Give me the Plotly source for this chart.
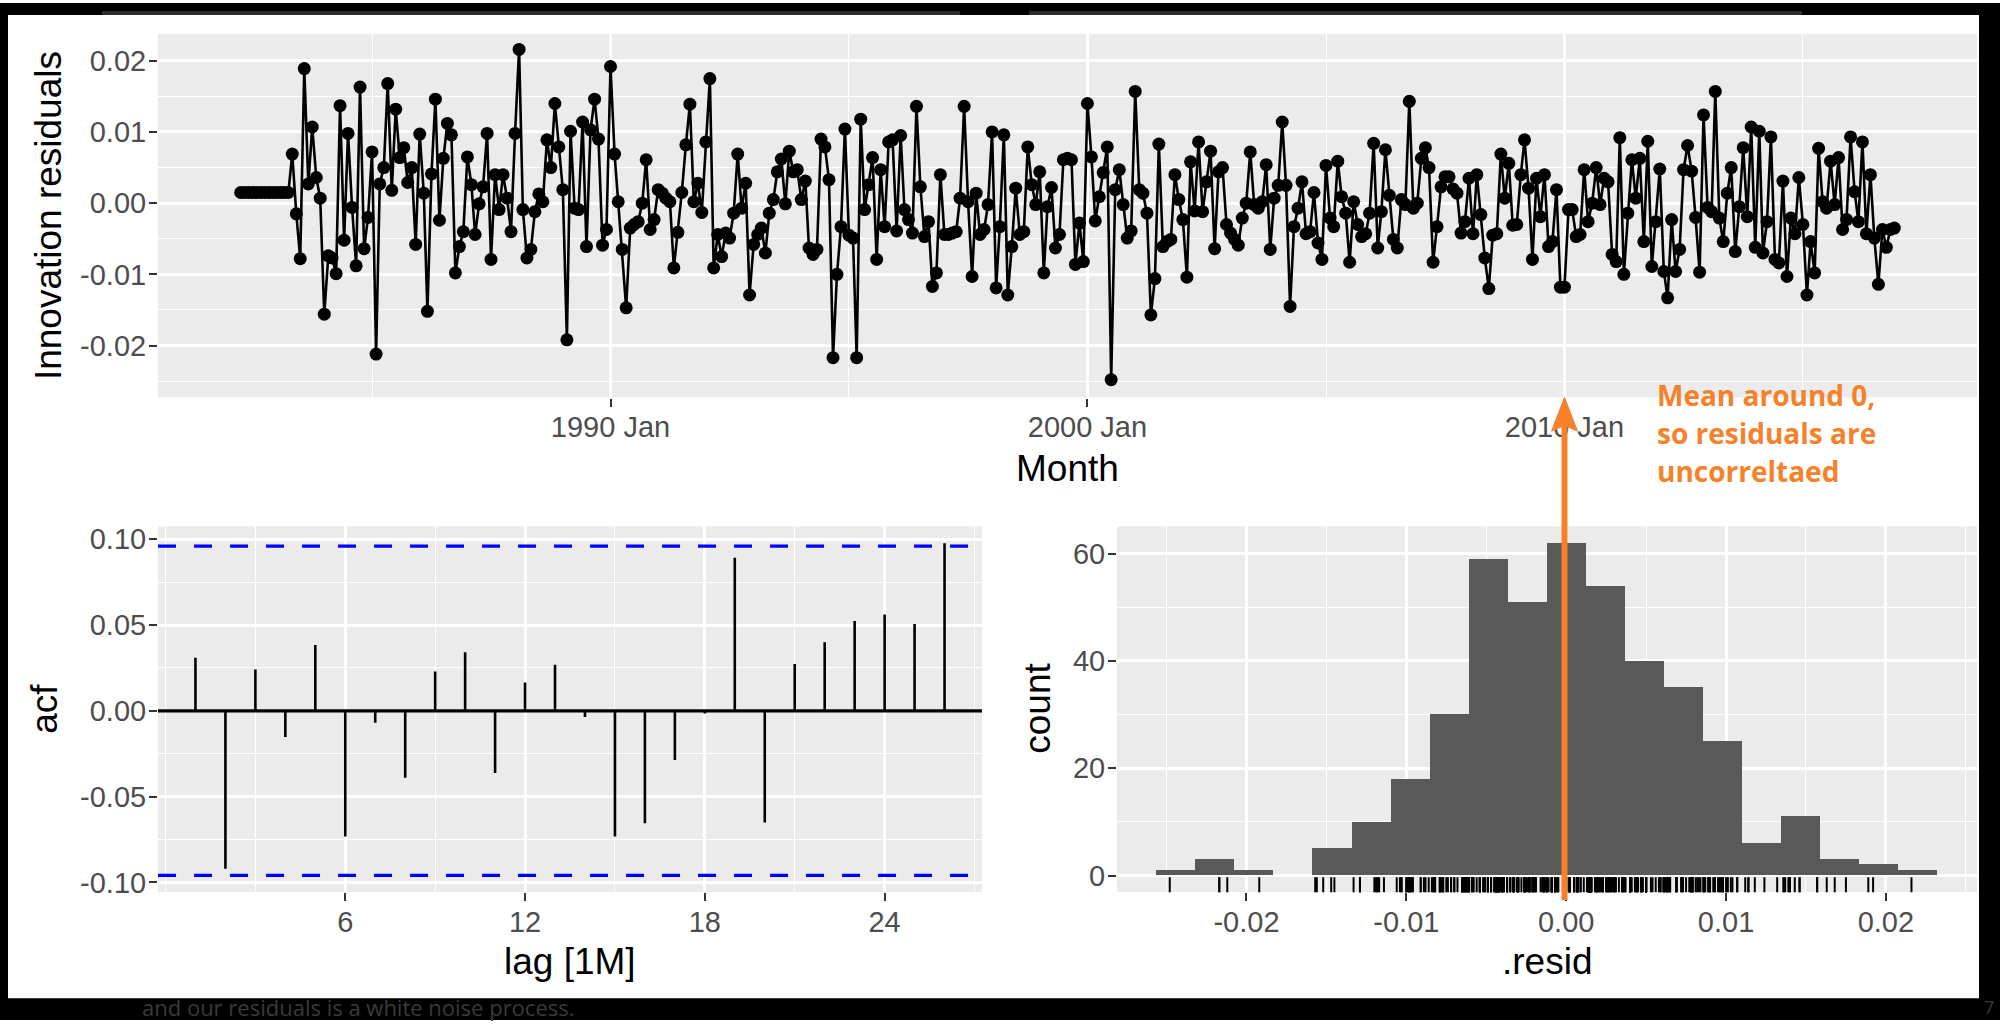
import math
import pandas as pd
import plotly.graph_objects as go

W, H = 2000, 1026

# ---------------- data ----------------
start_month = "1982-04-01"
# innovation residuals, in units of 0.001 (monthly, starting Apr 1982)
resid_x1000 = [
    1.5, 1.5, 1.5, 1.5, 1.5, 1.5, 1.5, 1.5, 1.5, 1.5, 1.5, 1.5, 1.5,
    6.9, -1.5, -7.8, 18.9, 2.7, 10.7, 3.6, 0.7, -15.6, -7.4, -7.7, -9.9, 13.7,
    -5.2, 9.8, -0.6, -8.8, 16.3, -6.4, -2.0, 7.2, -21.2, 2.7, 5.0, 16.8, 1.8,
    13.2, 6.4, 7.8, 2.9, 5.0, -5.8, 9.7, 1.4, -15.2, 4.1, 14.6, -2.4, 6.3,
    11.2, 9.6, -9.8, -6.1, -4.0, 6.5, 2.6, -4.4, -0.1, 2.3, 9.8, -7.9, 4.0,
    -0.9, 4.0, 0.7, -4.0, 9.8, 21.6, -0.9, -7.7, -6.5, -1.2, 1.3, 0.2, 8.9,
    5.0, 14.0, 7.9, 1.9, -19.2, 10.1, -0.7, -0.9, 11.4, -6.1, 10.3, 14.6, 9.0,
    -5.9, -3.7, 19.2, 6.9, 0.2, -6.5, -14.7, -3.5, -3.0, -2.6, 0.0, 6.1,
    -3.7, -2.3, 1.9, 1.4, 0.7, 0.2, -9.1, -4.1, 1.5, 8.2, 13.9, 0.2, 2.8,
    -1.3, 8.6, 17.5, -9.1, -4.4, -7.5, -4.2, -4.9, -1.4, 6.9, -0.7, 2.8, -12.9,
    -5.8, -4.4, -3.5, -7.0, -1.4, 0.5, 4.4, 6.2, -0.1, 7.3, 4.4, 4.7, 0.5,
    3.1, -6.3, -7.2, -6.5, 9.0, 7.9, 3.3, -21.7, -10.0, -3.3, 10.4, -4.5, -4.9,
    -21.7,
    11.8, -0.9, 2.6, 6.4, -7.9, 4.7, -3.3, 8.6, 8.9, -3.9, 9.5, -0.9, -2.3,
    -4.2, 13.6, 2.3, -4.7, -2.6, -11.7, -9.8, 4.0, -4.4, -4.4, -4.2, -4.0, 0.7,
    13.6, 0.2, -10.3, 1.4, -4.4, -3.7, -0.2, 10.0, -11.9, -3.3, 9.6, -12.9, -6.1,
    2.1, -4.4, -4.0, 7.9, 2.6, -0.2, 4.4, -9.8, -0.5, 2.2, -6.3, -4.4, 6.1,
    6.3, 6.1, -8.6, -2.8, -8.2, 14.0, 6.5, -2.5, 0.9, 4.3, 7.9, -24.8, 1.9,
    4.7, -0.2, -4.9, -3.9, 15.7, 1.9, 1.4, -1.4, -15.7, -10.6, 8.3, -6.1, -5.4,
    -5.1, 4.0, 0.5, -2.3, -10.4, 5.8, -1.1, 8.6, -1.2, 3.0, 7.3, -6.4, 4.4,
    5.0, -3.0, -4.2, -5.1, -5.9, -2.1, 0.0, 7.2, -0.2, -0.7, 0.2, 5.4, -6.5,
    0.7, 2.5, 11.4, 2.5, -14.5, -3.3, -0.7, 3.0, -4.3, -4.0, 1.5, -5.6, -7.9,
    5.3, -2.1, -3.3, 5.9, 0.9, -1.4, -8.3, 0.2, -3.0, -4.7, -4.3, -1.4, 8.4,
    -6.3, -1.2, 7.5, 1.1, -5.1, -6.3, 0.5, -0.2, 14.3, -0.7, 0.0, 6.3, 7.8,
    5.0, -8.3, -3.3, 2.3, 3.7, 3.7, 2.0, 1.4, -4.2, -2.6, 3.5, -4.3, 4.0,
    -1.6, -7.7, -12.0, -4.5, -4.3, 6.9, 0.7, 5.6, -3.1, -3.0, 4.0, 8.9, 2.1,
    -7.9, 3.5, -1.9, 4.0, -6.1, -5.4, 1.9, -11.8, -11.8, -0.9, -0.9, -4.7, -4.4,
    4.7, -2.6, 0.0, 5.0, -0.2, 3.5, 3.0, -7.2, -8.2, 9.2, -10.0, -1.4, 6.1,
    0.7, 6.3, -5.4, 8.7, -8.9, -2.6, 4.8, -9.6, -13.3, -2.3, -9.6, -6.5, 4.7,
    8.1, 4.5, -2.0, -9.7, 12.4, -0.6, -1.2, 15.7, -2.1, -5.4, 1.4, 5.0, -6.8,
    -0.5, 7.8, -1.9, 10.7, -6.2, 10.1, -7.0, -2.6, 9.3, -7.9, -8.4, 3.1, -10.3,
    -2.1, -4.3, 3.6, -3.0, -12.9, -5.4, -9.8, 7.7, 0.2, -0.7, 5.9, -0.2, 6.4,
    -3.7, -2.3, 9.3, 1.6, -2.6, 8.6, -4.3, 4.0, -4.9, -11.4, -3.7, -6.2, -3.7,
    -3.5,
]

acf_lags = list(range(1, 27))
acf_values = [0.0309, -0.0920, 0.0241, -0.0153, 0.0384, -0.0733, -0.0070,
              -0.0390, 0.0229, 0.0341, -0.0363, 0.0165, 0.0269, -0.0036,
              -0.0733, -0.0655, -0.0287, -0.0016, 0.0892, -0.0651, 0.0273,
              0.0400, 0.0524, 0.0562, 0.0506, 0.0976]

hist_counts = [1, 3, 1, 0, 5, 10, 18, 30, 59, 51, 62, 54, 40, 35, 25, 6, 11, 3, 2, 1]
hist_first_edge = -0.02564
hist_bin_width = 0.002442

top_ticks = ["1990-01-01", "2000-01-01", "2010-01-01"]
top_ticktext = ["1990 Jan", "2000 Jan", "2010 Jan"]
top_minor = ["1985-01-01", "1995-01-01", "2005-01-01", "2015-01-01"]

# ---------------- derived ----------------
resid = [v / 1000 for v in resid_x1000]
n = len(resid)
months = pd.date_range(start_month, periods=n, freq="MS")
span = months[-1] - months[0]
x_lo = (months[0] - 0.05 * span).strftime("%Y-%m-%d %H:%M")
x_hi = (months[-1] + 0.05 * span).strftime("%Y-%m-%d %H:%M")
ci = 1.96 / math.sqrt(n)
bin_centers = [hist_first_edge + (i + 0.5) * hist_bin_width for i in range(len(hist_counts))]

acf_x, acf_y = [], []
for lg, v in zip(acf_lags, acf_values):
    acf_x += [lg, lg, None]
    acf_y += [0, v, None]


def fx(p):
    return p / W


def fy(p):
    return 1 - p / H


ORANGE = "#F5822A"
GRID = "white"
TICKFONT = dict(family="Liberation Sans, Arial", size=29, color="#4D4D4D")
XSTAND = -4
YSTAND = -3


def axis_common(**kw):
    d = dict(showgrid=True, gridcolor=GRID, gridwidth=2.7, zeroline=False,
             showline=False, ticks="outside", ticklen=8, tickwidth=2.2,
             tickcolor="#333333", tickfont=TICKFONT, tickmode="array")
    d.update(kw)
    return d


def minor(vals):
    return dict(tickvals=vals, showgrid=True, gridcolor=GRID, gridwidth=1.4, ticks="")


fig = go.Figure()

# top: residual time series
fig.add_trace(go.Scatter(x=months, y=resid, mode="lines+markers",
                         line=dict(color="black", width=2.6),
                         marker=dict(color="black", size=13),
                         xaxis="x", yaxis="y", showlegend=False))

# acf
fig.add_trace(go.Scatter(x=acf_x, y=acf_y, mode="lines",
                         line=dict(color="black", width=2.6),
                         xaxis="x2", yaxis="y2", showlegend=False))

# histogram
fig.add_trace(go.Bar(x=bin_centers, y=hist_counts, width=hist_bin_width,
                     marker=dict(color="#595959", line=dict(width=0)),
                     xaxis="x3", yaxis="y3", showlegend=False))
# rug
fig.add_trace(go.Scatter(x=resid, y=[-1.9] * n, mode="markers",
                         marker=dict(symbol="line-ns-open", size=12, color="black",
                                     line=dict(color="black", width=2)),
                         xaxis="x3", yaxis="y3", showlegend=False))

top_dom_y = [fy(398), fy(31)]
bot_dom_y = [fy(897), fy(528)]

fig.update_layout(
    width=W, height=H,
    margin=dict(l=0, r=0, t=0, b=0),
    paper_bgcolor="white",
    plot_bgcolor="#EBEBEB",
    showlegend=False,
    bargap=0,
    xaxis=axis_common(domain=[fx(158), fx(1977)], type="date", range=[x_lo, x_hi],
                      tickvals=top_ticks, ticktext=top_ticktext,
                      minor=minor(top_minor), anchor="y", ticklabelstandoff=XSTAND),
    yaxis=axis_common(domain=top_dom_y, range=[-0.0273, 0.0238],
                      tickvals=[-0.02, -0.01, 0, 0.01, 0.02],
                      ticktext=["-0.02", "-0.01", "0.00", "0.01", "0.02"],
                      minor=minor([-0.025, -0.015, -0.005, 0.005, 0.015]),
                      anchor="x", ticklabelstandoff=YSTAND),
    xaxis2=axis_common(domain=[fx(158), fx(982)], range=[-0.25, 27.25],
                       tickvals=[6, 12, 18, 24], ticktext=["6", "12", "18", "24"],
                       minor=minor([0, 3, 9, 15, 21, 27]), anchor="y2", ticklabelstandoff=XSTAND),
    yaxis2=axis_common(domain=bot_dom_y, range=[-0.1057, 0.1075],
                       tickvals=[-0.1, -0.05, 0, 0.05, 0.1],
                       ticktext=["-0.10", "-0.05", "0.00", "0.05", "0.10"],
                       minor=minor([-0.075, -0.025, 0.025, 0.075]),
                       anchor="x2", ticklabelstandoff=YSTAND),
    xaxis3=axis_common(domain=[fx(1117), fx(1977)], range=[-0.0281, 0.0257],
                       tickvals=[-0.02, -0.01, 0, 0.01, 0.02],
                       ticktext=["-0.02", "-0.01", "0.00", "0.01", "0.02"],
                       minor=minor([-0.025, -0.015, -0.005, 0.005, 0.015, 0.025]),
                       anchor="y3", ticklabelstandoff=XSTAND),
    yaxis3=axis_common(domain=bot_dom_y, range=[-3.1, 65.1],
                       tickvals=[0, 20, 40, 60], ticktext=["0", "20", "40", "60"],
                       minor=minor([10, 30, 50]), anchor="x3", ticklabelstandoff=YSTAND),
)

shapes = []
# acf reference lines
shapes.append(dict(type="line", xref="x2 domain", yref="y2", x0=0, x1=1, y0=0, y1=0,
                   line=dict(color="black", width=3.2), layer="above"))
for s in (ci, -ci):
    shapes.append(dict(type="line", xref="x2 domain", yref="y2", x0=0, x1=1, y0=s, y1=s,
                       line=dict(color="blue", width=3.2, dash="18px,18px"), layer="above"))

# black frame of the screenshot
for (x0, y0, x1, y1, c) in [
    (0, 0, 2000, 12, "black"), (0, 0, 8, 1026, "black"),
    (1979, 0, 2000, 1026, "black"), (0, 1004, 2000, 1026, "black"),
    (102, 8, 960, 12, "#2c2c2c"), (1029, 8, 1802, 12, "#2c2c2c"),
]:
    shapes.append(dict(type="rect", xref="paper", yref="paper",
                       x0=fx(x0), x1=fx(x1), y0=fy(y1), y1=fy(y0),
                       fillcolor=c, line=dict(width=0), layer="below"))

# orange arrow
ax = 1564.5
shapes.append(dict(type="line", xref="paper", yref="paper",
                   x0=fx(ax), x1=fx(ax), y0=fy(905), y1=fy(425),
                   line=dict(color=ORANGE, width=6), layer="above"))
shapes.append(dict(type="path", xref="paper", yref="paper",
                   path=f"M {fx(ax)},{fy(398)} L {fx(ax - 13)},{fy(432)} L {fx(ax)},{fy(426)} L {fx(ax + 13)},{fy(432)} Z",
                   fillcolor=ORANGE, line=dict(color=ORANGE, width=1), layer="above"))
fig.update_layout(shapes=shapes)

ann = []
TITLE = dict(family="Liberation Sans, Arial", size=37, color="black")
for text, x, y, ang in [
    ("Innovation residuals", 48, 215, -90), ("Month", 1067, 470, 0),
    ("acf", 45, 712, -90), ("lag [1M]", 570, 967, 0),
    ("count", 1038, 712, -90), (".resid", 1547, 967, 0),
]:
    ann.append(dict(text=text, x=fx(x), y=fy(y), xref="paper", yref="paper",
                    showarrow=False, textangle=ang, font=TITLE,
                    xanchor="center", yanchor="middle"))

for text, y in [("Mean around 0,", 395), ("so residuals are", 434), ("uncorreltaed", 472)]:
    ann.append(dict(text=f"<b>{text}</b>", x=fx(1655), y=fy(y), xref="paper", yref="paper",
                    showarrow=False, xanchor="left", yanchor="middle",
                    font=dict(family="Open Sans", size=28, color=ORANGE)))

ann.append(dict(text="and our residuals is a white noise process.", x=fx(140), y=fy(1013),
                xref="paper", yref="paper", showarrow=False, xanchor="left", yanchor="middle",
                font=dict(family="Open Sans", size=22, color="#3a3a3a")))
ann.append(dict(text="7", x=fx(1982), y=fy(1013), xref="paper", yref="paper",
                showarrow=False, xanchor="left", yanchor="middle",
                font=dict(family="Open Sans", size=18, color="#3a3a3a")))
fig.update_layout(annotations=ann)

fig.write_html("out.html", config={"displayModeBar": False},
               post_script="document.body.style.margin='0';document.body.style.overflow='hidden';")
